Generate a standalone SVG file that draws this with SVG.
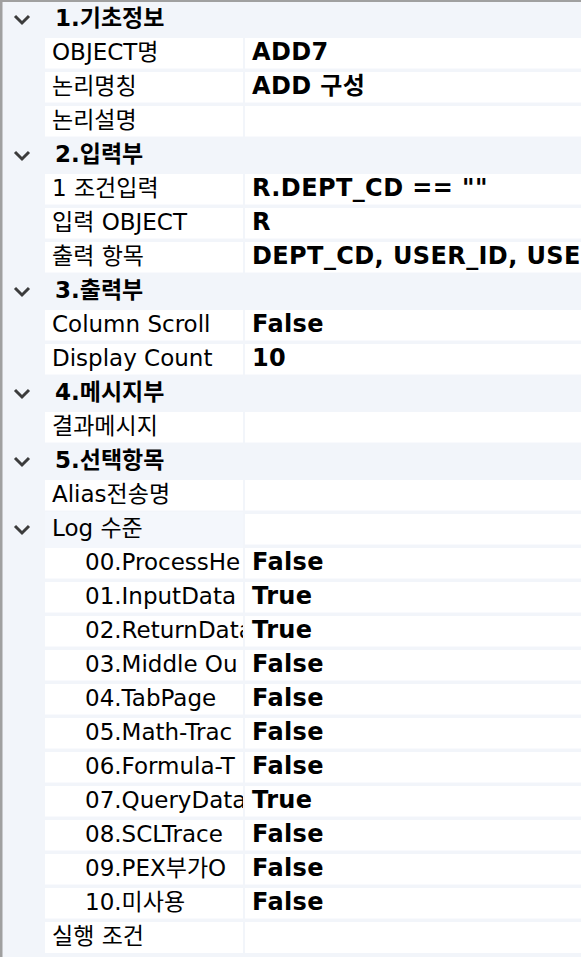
<svg xmlns="http://www.w3.org/2000/svg" width="581" height="957" viewBox="0 0 581 957">
<style>
.bg{fill:#f2f5fa}
.cell{fill:#ffffff}
.sub{fill:#f4f7fc}
.lbl{font-family:"DejaVu Sans","Noto Sans CJK KR",sans-serif;font-size:23px;fill:#000}
.val{font-family:"DejaVu Sans","Noto Sans CJK KR",sans-serif;font-size:24px;font-weight:bold;letter-spacing:0.4px;fill:#000}
.hdr{font-family:"DejaVu Sans","Noto Sans CJK KR",sans-serif;font-size:23px;font-weight:bold;fill:#000}
.chev{fill:none;stroke:#3c3c3c;stroke-width:3}
</style>
<defs>
<clipPath id="lc"><rect x="45" y="0" width="198" height="957"/></clipPath>
<polyline id="cv" class="chev" points="0,0 7,7 14,0"/>
</defs>
<rect class="bg" x="0" y="0" width="581" height="957"/>
<rect x="0" y="0" width="581" height="2" fill="#a0a0a0"/>
<rect x="0" y="0" width="2.5" height="957" fill="#a0a0a0"/>

<g id="h1"><use href="#cv" x="15" y="16"/><text class="hdr" x="55" y="26">1.기초정보</text></g>
<g id="r1"><rect class="cell" x="45" y="38" width="198" height="30.5"/><rect class="cell" x="245" y="38" width="336" height="30.5"/><text class="lbl" x="52" y="60" clip-path="url(#lc)">OBJECT명</text><text class="val" x="252" y="60">ADD7</text></g>
<g id="r2"><rect class="cell" x="45" y="72" width="198" height="30.5"/><rect class="cell" x="245" y="72" width="336" height="30.5"/><text class="lbl" x="52" y="94" clip-path="url(#lc)">논리명칭</text><text class="val" x="252" y="94">ADD 구성</text></g>
<g id="r3"><rect class="cell" x="45" y="106" width="198" height="30.5"/><rect class="cell" x="245" y="106" width="336" height="30.5"/><text class="lbl" x="52" y="128" clip-path="url(#lc)">논리설명</text></g>

<g id="h2"><use href="#cv" x="15" y="152"/><text class="hdr" x="55" y="162">2.입력부</text></g>
<g id="r5"><rect class="cell" x="45" y="174" width="198" height="30.5"/><rect class="cell" x="245" y="174" width="336" height="30.5"/><text class="lbl" x="52" y="196" clip-path="url(#lc)">1 조건입력</text><text class="val" x="252" y="196">R.DEPT_CD == ""</text></g>
<g id="r6"><rect class="cell" x="45" y="208" width="198" height="30.5"/><rect class="cell" x="245" y="208" width="336" height="30.5"/><text class="lbl" x="52" y="230" clip-path="url(#lc)">입력 OBJECT</text><text class="val" x="252" y="230">R</text></g>
<g id="r7"><rect class="cell" x="45" y="242" width="198" height="30.5"/><rect class="cell" x="245" y="242" width="336" height="30.5"/><text class="lbl" x="52" y="264" clip-path="url(#lc)">출력 항목</text><text class="val" x="252" y="264">DEPT_CD, USER_ID, USE</text></g>

<g id="h3"><use href="#cv" x="15" y="288"/><text class="hdr" x="55" y="298">3.출력부</text></g>
<g id="r9"><rect class="cell" x="45" y="310" width="198" height="30.5"/><rect class="cell" x="245" y="310" width="336" height="30.5"/><text class="lbl" x="52" y="332" clip-path="url(#lc)">Column Scroll</text><text class="val" x="252" y="332">False</text></g>
<g id="r10"><rect class="cell" x="45" y="344" width="198" height="30.5"/><rect class="cell" x="245" y="344" width="336" height="30.5"/><text class="lbl" x="52" y="366" clip-path="url(#lc)">Display Count</text><text class="val" x="252" y="366">10</text></g>

<g id="h4"><use href="#cv" x="15" y="390"/><text class="hdr" x="55" y="400">4.메시지부</text></g>
<g id="r12"><rect class="cell" x="45" y="412" width="198" height="30.5"/><rect class="cell" x="245" y="412" width="336" height="30.5"/><text class="lbl" x="52" y="434" clip-path="url(#lc)">결과메시지</text></g>

<g id="h5"><use href="#cv" x="15" y="458"/><text class="hdr" x="55" y="468">5.선택항목</text></g>
<g id="r14"><rect class="cell" x="45" y="480" width="198" height="30.5"/><rect class="cell" x="245" y="480" width="336" height="30.5"/><text class="lbl" x="52" y="502" clip-path="url(#lc)">Alias전송명</text></g>
<g id="r15"><use href="#cv" x="15" y="526"/><rect class="sub" x="45" y="512" width="198" height="36"/><rect class="cell" x="245" y="514" width="336" height="30.5"/><text class="lbl" x="52" y="536" clip-path="url(#lc)">Log 수준</text></g>

<g id="r16"><rect class="cell" x="45" y="548" width="198" height="30.5"/><rect class="cell" x="245" y="548" width="336" height="30.5"/><text class="lbl" x="85" y="570" clip-path="url(#lc)">00.ProcessHe</text><text class="val" x="252" y="570">False</text></g>
<g id="r17"><rect class="cell" x="45" y="582" width="198" height="30.5"/><rect class="cell" x="245" y="582" width="336" height="30.5"/><text class="lbl" x="85" y="604" clip-path="url(#lc)">01.InputData</text><text class="val" x="252" y="604">True</text></g>
<g id="r18"><rect class="cell" x="45" y="616" width="198" height="30.5"/><rect class="cell" x="245" y="616" width="336" height="30.5"/><text class="lbl" x="85" y="638" clip-path="url(#lc)">02.ReturnData</text><text class="val" x="252" y="638">True</text></g>
<g id="r19"><rect class="cell" x="45" y="650" width="198" height="30.5"/><rect class="cell" x="245" y="650" width="336" height="30.5"/><text class="lbl" x="85" y="672" clip-path="url(#lc)">03.Middle Ou</text><text class="val" x="252" y="672">False</text></g>
<g id="r20"><rect class="cell" x="45" y="684" width="198" height="30.5"/><rect class="cell" x="245" y="684" width="336" height="30.5"/><text class="lbl" x="85" y="706" clip-path="url(#lc)">04.TabPage</text><text class="val" x="252" y="706">False</text></g>
<g id="r21"><rect class="cell" x="45" y="718" width="198" height="30.5"/><rect class="cell" x="245" y="718" width="336" height="30.5"/><text class="lbl" x="85" y="740" clip-path="url(#lc)">05.Math-Trac</text><text class="val" x="252" y="740">False</text></g>
<g id="r22"><rect class="cell" x="45" y="752" width="198" height="30.5"/><rect class="cell" x="245" y="752" width="336" height="30.5"/><text class="lbl" x="85" y="774" clip-path="url(#lc)">06.Formula-T</text><text class="val" x="252" y="774">False</text></g>
<g id="r23"><rect class="cell" x="45" y="786" width="198" height="30.5"/><rect class="cell" x="245" y="786" width="336" height="30.5"/><text class="lbl" x="85" y="808" clip-path="url(#lc)">07.QueryData</text><text class="val" x="252" y="808">True</text></g>
<g id="r24"><rect class="cell" x="45" y="820" width="198" height="30.5"/><rect class="cell" x="245" y="820" width="336" height="30.5"/><text class="lbl" x="85" y="842" clip-path="url(#lc)">08.SCLTrace</text><text class="val" x="252" y="842">False</text></g>
<g id="r25"><rect class="cell" x="45" y="854" width="198" height="30.5"/><rect class="cell" x="245" y="854" width="336" height="30.5"/><text class="lbl" x="85" y="876" clip-path="url(#lc)">09.PEX부가O</text><text class="val" x="252" y="876">False</text></g>
<g id="r26"><rect class="cell" x="45" y="888" width="198" height="30.5"/><rect class="cell" x="245" y="888" width="336" height="30.5"/><text class="lbl" x="85" y="910" clip-path="url(#lc)">10.미사용</text><text class="val" x="252" y="910">False</text></g>
<g id="r27"><rect class="cell" x="45" y="922" width="198" height="31"/><rect class="cell" x="245" y="922" width="336" height="31"/><text class="lbl" x="52" y="944" clip-path="url(#lc)">실행 조건</text></g>
</svg>
